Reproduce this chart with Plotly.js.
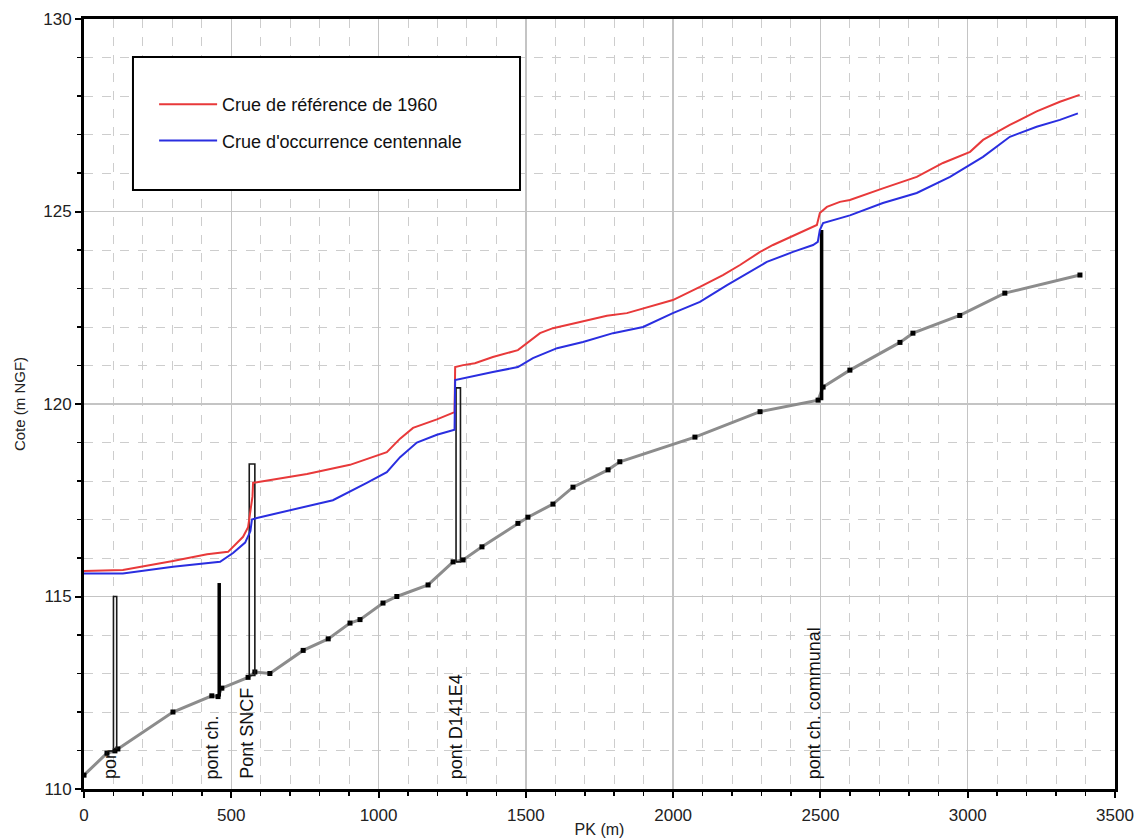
<!DOCTYPE html>
<html>
<head>
<meta charset="utf-8">
<script src="https://cdn.plot.ly/plotly-3.0.1.min.js"></script>
<style>
  html, body { margin: 0; padding: 0; background: #ffffff; }
  #chart { width: 1144px; height: 840px; }
</style>
</head>
<body>
<div id="chart"></div>
<script>
// ---- Data ----
const seriesNames = ['Crue de référence de 1960', "Crue d'occurrence centennale"];

const redX = [0, 132, 302, 418, 489, 540, 557, 572, 574, 587, 757, 859, 903, 1028, 1073, 1117, 1198, 1258, 1260, 1287, 1327, 1388, 1473, 1548, 1592, 1684, 1775, 1843, 1921, 1999, 2091, 2169, 2227, 2295, 2339, 2430, 2488, 2498, 2522, 2566, 2600, 2712, 2827, 2916, 3008, 3052, 3143, 3234, 3313, 3380];
const redY = [115.66, 115.69, 115.92, 116.10, 116.16, 116.55, 116.80, 117.60, 117.95, 117.97, 118.18, 118.36, 118.42, 118.75, 119.10, 119.38, 119.60, 119.79, 120.96, 121.01, 121.06, 121.22, 121.40, 121.84, 121.97, 122.13, 122.29, 122.36, 122.52, 122.70, 123.04, 123.35, 123.61, 123.95, 124.13, 124.44, 124.65, 124.96, 125.12, 125.25, 125.30, 125.60, 125.90, 126.26, 126.55, 126.86, 127.25, 127.60, 127.85, 128.03];

const blueX = [0, 132, 302, 462, 506, 547, 565, 570, 587, 733, 845, 960, 1028, 1073, 1130, 1198, 1258, 1260, 1300, 1388, 1473, 1524, 1606, 1694, 1796, 1898, 1999, 2091, 2183, 2251, 2318, 2407, 2475, 2491, 2498, 2509, 2566, 2600, 2712, 2827, 2940, 3052, 3143, 3234, 3313, 3374];
const blueY = [115.60, 115.60, 115.77, 115.90, 116.13, 116.40, 116.70, 117.00, 117.04, 117.30, 117.50, 117.95, 118.23, 118.62, 119.00, 119.20, 119.33, 120.62, 120.68, 120.83, 120.96, 121.19, 121.45, 121.61, 121.84, 122.00, 122.36, 122.65, 123.09, 123.40, 123.69, 123.95, 124.13, 124.21, 124.52, 124.70, 124.83, 124.90, 125.22, 125.48, 125.90, 126.42, 126.94, 127.20, 127.38, 127.55];

const groundX = [0, 78, 105, 115, 302, 434, 455, 468, 557, 580, 631, 744, 829, 903, 937, 1015, 1062, 1168, 1253, 1287, 1351, 1473, 1507, 1592, 1660, 1779, 1819, 2074, 2295, 2492, 2509, 2600, 2770, 2814, 2973, 3126, 3381];
const groundY = [110.36, 110.93, 110.99, 111.04, 112.00, 112.42, 112.40, 112.62, 112.90, 113.04, 113.00, 113.60, 113.90, 114.31, 114.40, 114.83, 115.00, 115.30, 115.90, 115.95, 116.29, 116.90, 117.06, 117.40, 117.84, 118.29, 118.50, 119.14, 119.80, 120.10, 120.44, 120.88, 121.60, 121.84, 122.30, 122.88, 123.35];

// Bridges (ouvrages)
const bridgeNames  = ['pon', 'pont ch.', 'Pont SNCF', 'pont D141E4', 'pont ch. communal'];
const bridgeStart  = [100, 459, 561, 1263, 2504];
const bridgeEnd    = [111, 459, 580, 1278, 2504];
const bridgeBottom = [111.05, 112.40, 112.95, 115.90, 120.10];
const bridgeTop    = [115.00, 115.35, 118.44, 120.42, 124.52];
const bridgeLabelX = [88, 436, 551, 1262, 2479];

// Axis ticks
const xTickVals = [0, 500, 1000, 1500, 2000, 2500, 3000, 3500];
const yTickVals = [110, 115, 120, 125, 130];

// ---- Traces ----
const traces = [];

traces.push({
  x: groundX, y: groundY, type: 'scatter', mode: 'lines+markers',
  line: { color: '#8c8c8c', width: 3 },
  marker: { color: '#000000', size: 5, symbol: 'square' },
  showlegend: false, hoverinfo: 'skip'
});

bridgeNames.forEach((name, i) => {
  const x0 = bridgeStart[i], x1 = bridgeEnd[i];
  const b = bridgeBottom[i], t = bridgeTop[i];
  if (x0 === x1) {
    traces.push({
      x: [x0, x0], y: [b, t], type: 'scatter', mode: 'lines',
      line: { color: '#000000', width: 3.5 },
      showlegend: false, hoverinfo: 'skip', name: name
    });
  } else {
    traces.push({
      x: [x0, x0, x1, x1, x0], y: [b, t, t, b, b], type: 'scatter', mode: 'lines',
      line: { color: '#1a1a1a', width: 1.6 },
      showlegend: false, hoverinfo: 'skip', name: name
    });
  }
});

traces.push({
  x: redX, y: redY, type: 'scatter', mode: 'lines', name: seriesNames[0],
  line: { color: '#e8393a', width: 2 }, legendgroup: 'a'
});
traces.push({
  x: blueX, y: blueY, type: 'scatter', mode: 'lines', name: seriesNames[1],
  line: { color: '#2a2ee0', width: 2 }, legendgroup: 'b'
});

const fontFam = 'Liberation Sans, Arial, sans-serif';

// ---- Annotations (bridge labels) ----
const annotations = bridgeNames.map((name, i) => ({
  x: bridgeLabelX[i], y: 110, xref: 'x', yref: 'y',
  text: name, showarrow: false, textangle: -90,
  xanchor: 'center', yanchor: 'bottom', yshift: 8,
  font: { family: fontFam, size: 18, color: '#111111' }
}));

const layout = {
  width: 1144, height: 840,
  margin: { l: 84, r: 29, t: 19, b: 51 },
  paper_bgcolor: '#ffffff', plot_bgcolor: '#ffffff',
  font: { family: fontFam, color: '#222222' },
  showlegend: true,
  legend: {
    x: 0.0680, y: 0.913, xanchor: 'left', yanchor: 'top',
    bgcolor: 'rgba(0,0,0,0)', borderwidth: 0,
    font: { family: fontFam, size: 18, color: '#111111' },
    traceorder: 'grouped', tracegroupgap: 10, itemwidth: 58
  },
  xaxis: {
    range: [0, 3500], tickvals: xTickVals, ticktext: xTickVals.map(String),
    showgrid: true, gridcolor: '#c4c4c4', gridwidth: 1.5,
    zeroline: false, showline: true, linecolor: '#000000', linewidth: 3, mirror: true,
    ticks: 'outside', ticklen: 6, tickwidth: 2, tickcolor: '#000000',
    ticklabelstandoff: 3,
    tickfont: { family: fontFam, size: 17, color: '#222222' },
    minor: { dtick: 100, tick0: 0, showgrid: true, gridcolor: '#cdcdcd', griddash: 'dash', gridwidth: 1,
             ticks: 'outside', ticklen: 4, tickwidth: 1.5, tickcolor: '#000000' },
    title: { text: 'PK (m)', font: { family: fontFam, size: 16, color: '#222222' }, standoff: 0 }
  },
  yaxis: {
    range: [110, 130], tickvals: yTickVals, ticktext: yTickVals.map(String),
    showgrid: true, gridcolor: '#c4c4c4', gridwidth: 1.5,
    zeroline: false, showline: true, linecolor: '#000000', linewidth: 3, mirror: true,
    ticks: 'outside', ticklen: 6, tickwidth: 2, tickcolor: '#000000',
    tickfont: { family: fontFam, size: 17, color: '#222222' },
    minor: { dtick: 1, tick0: 110, showgrid: true, gridcolor: '#cdcdcd', griddash: 'dash', gridwidth: 1,
             ticks: 'outside', ticklen: 4, tickwidth: 1.5, tickcolor: '#000000' },
    title: { text: 'Cote (m NGF)', font: { family: fontFam, size: 15, color: '#222222' }, standoff: 14 }
  },
  shapes: [{
    type: 'rect', xref: 'paper', yref: 'paper',
    x0: 0.0475, x1: 0.4229, y0: 0.7779, y1: 0.9506,
    line: { color: '#000000', width: 2 }, fillcolor: '#ffffff', layer: 'above'
  }],
  annotations: annotations
};

Plotly.newPlot('chart', traces, layout, { displayModeBar: false, staticPlot: true });
</script>
</body>
</html>
